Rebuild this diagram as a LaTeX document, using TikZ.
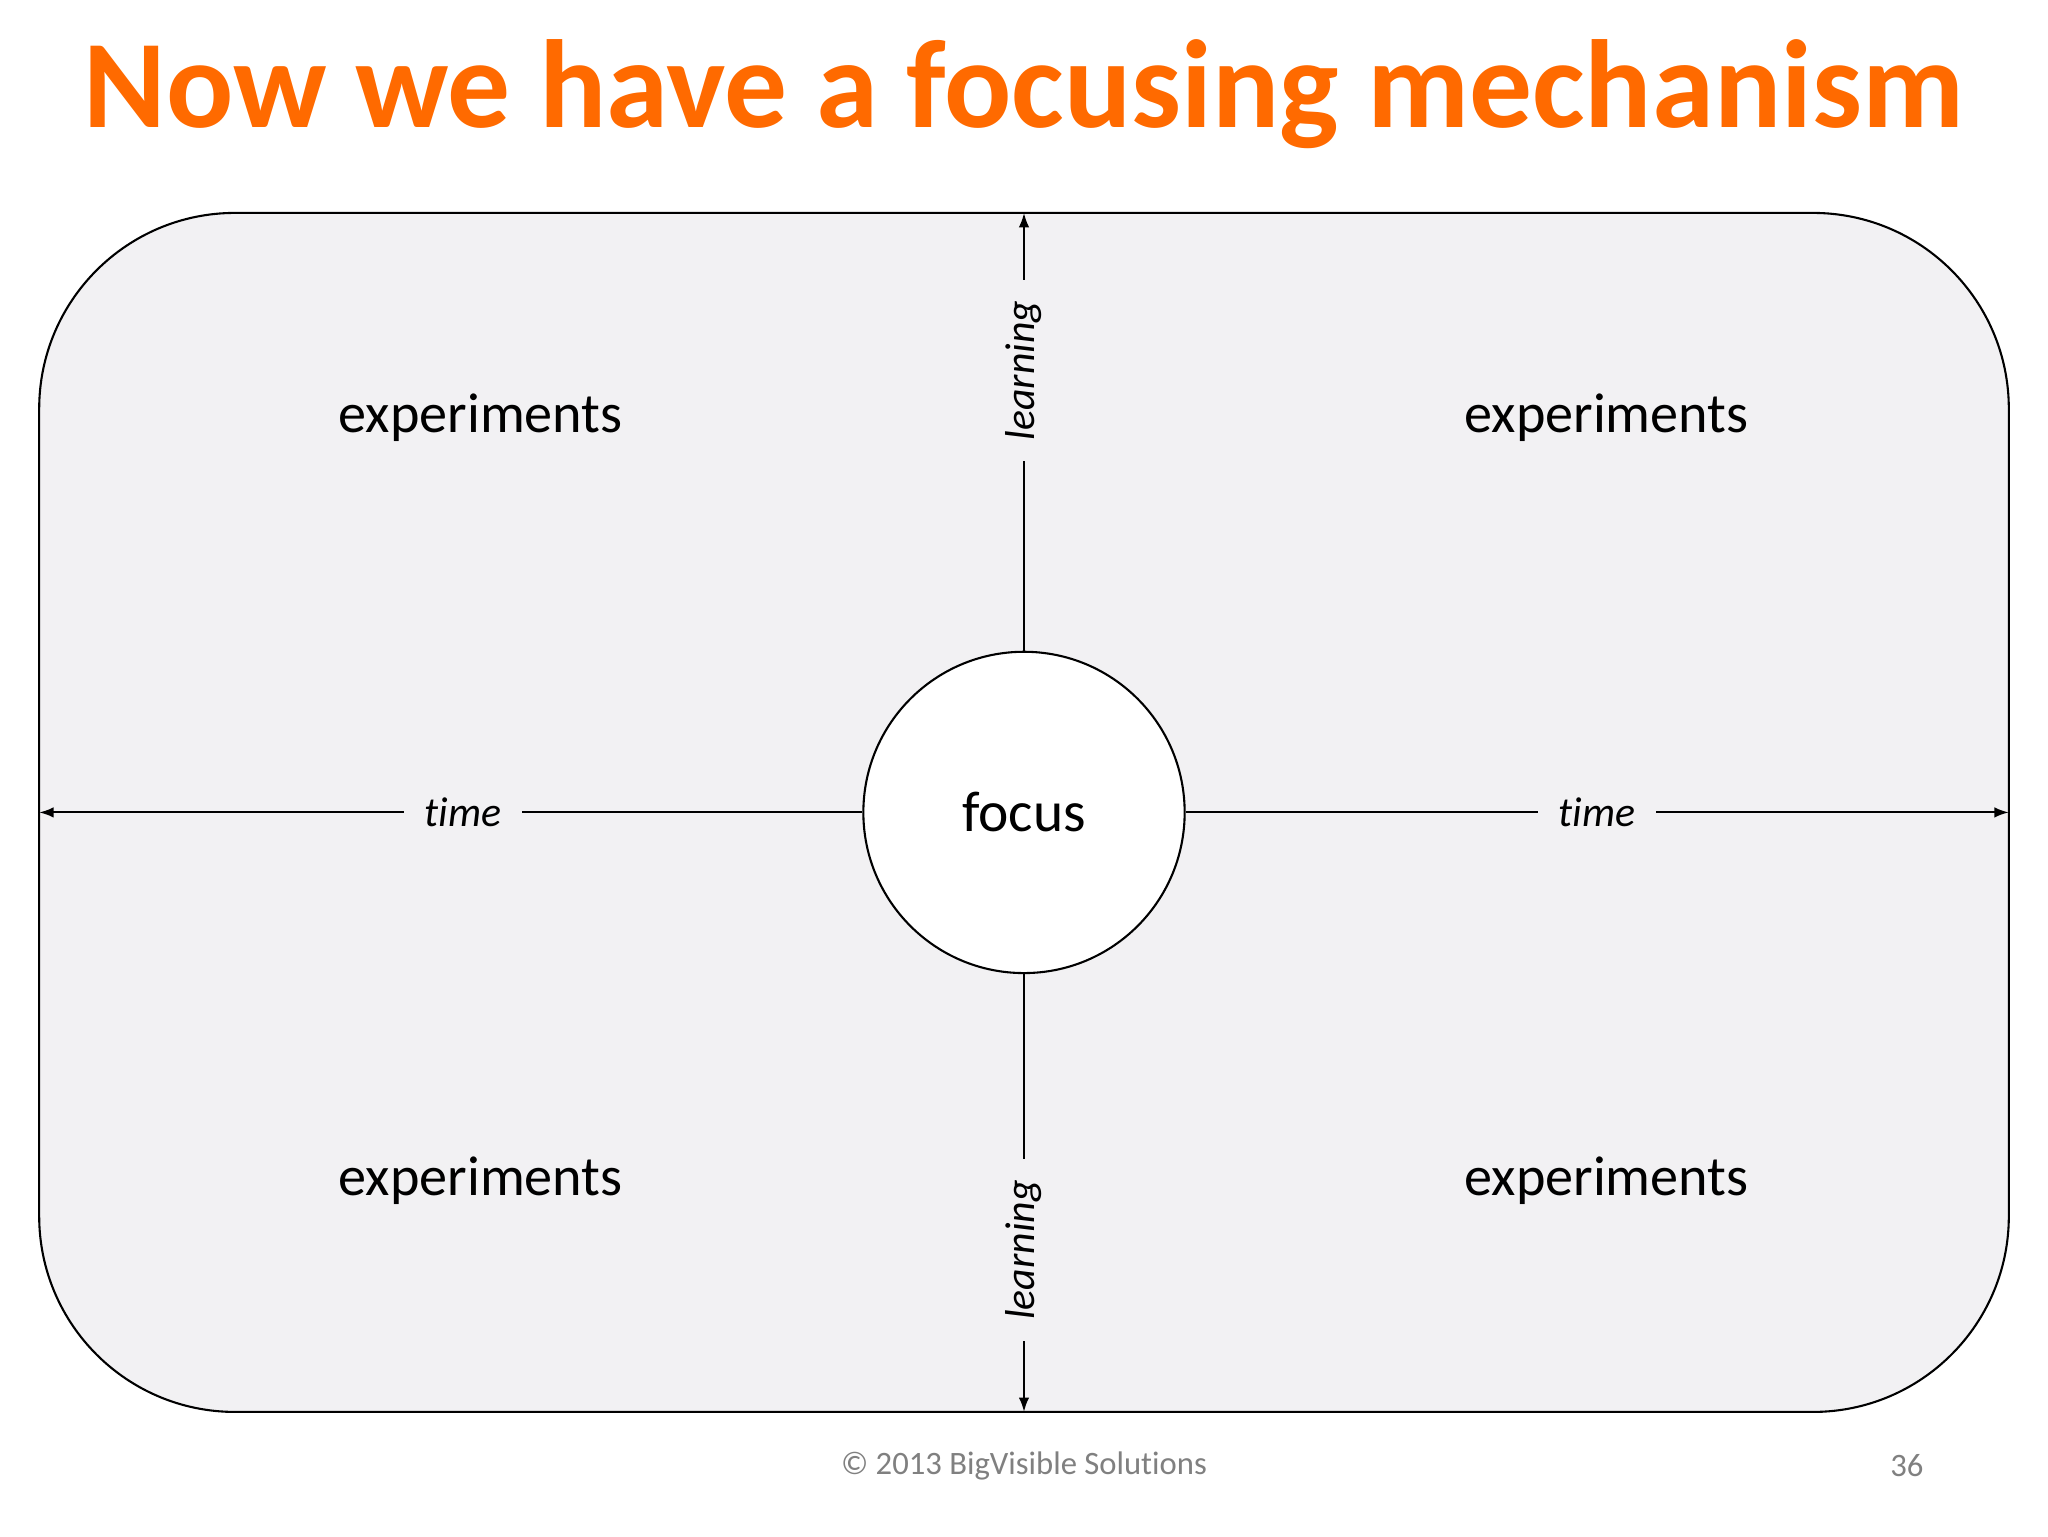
\documentclass[tikz,border=0pt]{standalone}
\usepackage{fontspec}
\setmainfont{Carlito}[Ligatures={NoCommon,TeX}]
\usetikzlibrary{arrows.meta}
\definecolor{boxc}{HTML}{F2F1F3}
\definecolor{ttl}{HTML}{FF6A00}
\tikzset{
  ax/.style={line width=1.6pt,-{Latex[length=11pt,width=8pt]}},
  lab/.style={fill=boxc,inner xsep=16pt,inner ysep=4pt,font=\fontsize{32}{32}\selectfont\itshape},
  exp/.style={font=\fontsize{43}{43}\selectfont}
}
\begin{document}
\begin{tikzpicture}[x=1pt,y=-1pt]
\useasboundingbox (0,0) rectangle (1568,1176);
\fill[white] (0,0) rectangle (1568,1176);
\node[font=\fontsize{96}{96}\selectfont\bfseries,text=ttl] (title) at (784,72) {Now we have a focusing mechanism};
\draw[line width=1.6pt,fill=boxc,rounded corners=150pt] (30,163) rectangle (1538,1081);
\node[draw,line width=1.6pt,fill=white,circle,minimum size=246pt,inner sep=0pt,font=\fontsize{44}{44}\selectfont] (f) at (784,622) {focus};
\coordinate (L) at (30,622);
\coordinate (R) at (1538,622);
\coordinate (T) at (784,163);
\coordinate (B) at (784,1081);
\draw[ax] (f.west) -- node[lab,pos=0.485]{time} (L);
\draw[ax] (f.east) -- node[lab]{time} (R);
\draw[ax] (f.north) -- node[lab,pos=0.64,rotate=90]{learning} (T);
\draw[ax] (f.south) -- node[lab,pos=0.63,rotate=90]{learning} (B);
\node[exp] (e1) at (368,320) {experiments};
\node[exp] (e2) at (1230,320) {experiments};
\node[exp] (e3) at (368,904) {experiments};
\node[exp] (e4) at (1230,904) {experiments};
\node[font=\fontsize{25}{25}\selectfont,text=gray] (ft) at (784,1122) {© 2013 BigVisible Solutions};
\node[font=\fontsize{25}{25}\selectfont,text=gray] (pg) at (1460,1122) {36};
\end{tikzpicture}
\end{document}
